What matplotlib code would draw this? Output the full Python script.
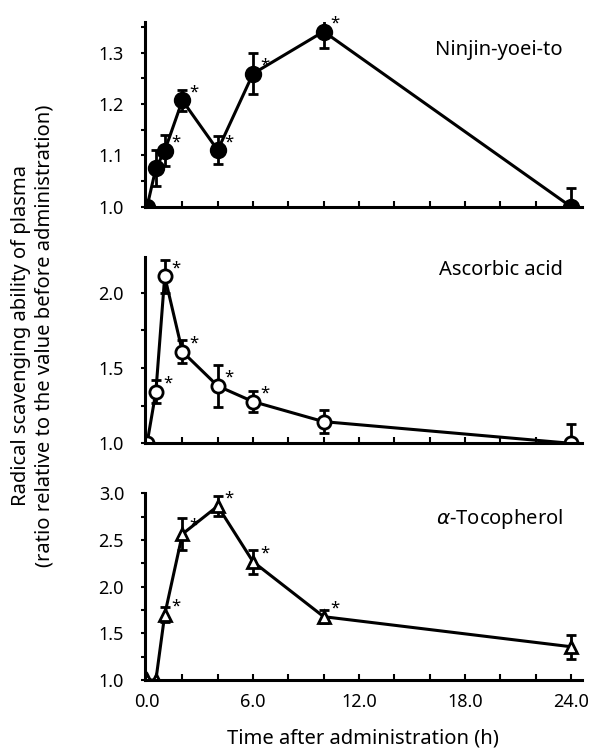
import numpy as np
import matplotlib
matplotlib.use('Agg')
from matplotlib import pyplot as plt
from matplotlib.ticker import MultipleLocator, FormatStrFormatter

plt.rcParams['font.family'] = ['Noto Sans', 'DejaVu Sans']

time_h = [0, 0.5, 1, 2, 4, 6, 10, 24]

ninjin = [1.0, 1.075, 1.109, 1.207, 1.110, 1.259, 1.341, 1.0]
ninjin_err = [0.0, 0.035, 0.03, 0.02, 0.027, 0.04, 0.032, 0.036]
ninjin_star = [False, False, True, True, True, True, True, False]

ascorbic = [1.0, 1.343, 2.11, 1.609, 1.381, 1.277, 1.144, 1.0]
ascorbic_err = [0.0, 0.075, 0.11, 0.075, 0.14, 0.07, 0.075, 0.13]
ascorbic_star = [False, True, True, True, True, True, False, False]

tocopherol = [1.0, 1.0, 1.70, 2.564, 2.864, 2.268, 1.679, 1.357]
tocopherol_err = [0.0, 0.0, 0.08, 0.17, 0.11, 0.13, 0.07, 0.13]
tocopherol_star = [False, False, True, True, True, True, True, False]

panel_names = ['Ninjin-yoei-to', 'Ascorbic acid', r'$\alpha$-Tocopherol']

fig = plt.figure(figsize=(5.94, 7.51), dpi=100)

# left, bottom, width, height in figure fractions
boxes = [[0.244, 0.7248, 0.735, 0.2462],
         [0.244, 0.4097, 0.735, 0.2485],
         [0.244, 0.0945, 0.735, 0.2485]]
label_y = [0.847, 0.929, 0.862]

series = [(ninjin, ninjin_err, ninjin_star, 'o', 'black', 10.5, (1.0, 1.36), 0.1, 0.05),
          (ascorbic, ascorbic_err, ascorbic_star, 'o', 'white', 9.5, (1.0, 2.24), 0.5, 0.25),
          (tocopherol, tocopherol_err, tocopherol_star, '^', 'white', 8.5, (1.0, 3.0), 0.5, 0.25)]

for i in range(3):
    vals, errs, stars, mk, fc, ms, ylim, major, minor = series[i]
    ax = fig.add_axes(boxes[i])
    ax.errorbar(time_h, vals, yerr=errs, color='black', lw=2.2, marker=mk,
                markersize=ms, markerfacecolor=fc, markeredgecolor='black',
                markeredgewidth=2, ecolor='black', elinewidth=2, capsize=3.5,
                capthick=2, zorder=3)
    for t, v, e, s in zip(time_h, vals, errs, stars):
        if s:
            ax.annotate('*', (t, v), xytext=(5, 0), textcoords='offset points',
                        fontsize=12, ha='left', va='bottom')
    ax.set_xlim(-0.12, 24.6)
    ax.set_ylim(ylim)
    ax.spines['top'].set_visible(False)
    ax.spines['right'].set_visible(False)
    ax.spines['left'].set_linewidth(2.2)
    ax.spines['bottom'].set_linewidth(2.2)
    ax.xaxis.set_major_locator(MultipleLocator(6))
    ax.xaxis.set_minor_locator(MultipleLocator(2))
    ax.xaxis.set_major_formatter(FormatStrFormatter('%.1f'))
    ax.yaxis.set_major_locator(MultipleLocator(major))
    ax.yaxis.set_minor_locator(MultipleLocator(minor))
    ax.yaxis.set_major_formatter(FormatStrFormatter('%.1f'))
    ax.tick_params(axis='x', which='both', direction='in', length=4, width=1.5,
                   labelsize=13, pad=9)
    ax.tick_params(axis='y', which='both', direction='out', length=3, width=1.5,
                   labelsize=13, pad=12)
    if i < 2:
        ax.tick_params(axis='x', labelbottom=False)
    ax.text(0.957, label_y[i], panel_names[i], transform=ax.transAxes,
            ha='right', va='center', fontsize=14.5)
    for sp in ax.spines.values():
        sp.set_zorder(4)

fig.text(0.611, 0.017, 'Time after administration (h)', ha='center',
         va='center', fontsize=14.5)
fig.text(0.055, 0.553, 'Radical scavenging ability of plasma\n'
         '(ratio relative to the value before administration)',
         rotation=90, ha='center', va='center', fontsize=14.5, multialignment='center')

fig.savefig('out.png', dpi=100)
